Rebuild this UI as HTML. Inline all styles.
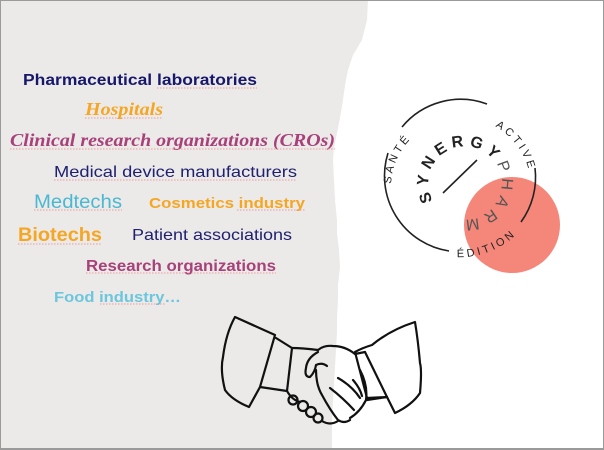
<!DOCTYPE html>
<html><head><meta charset="utf-8"><style>
html,body{margin:0;padding:0;background:#fff;}
svg{display:block;}
</style></head><body>
<svg width="604" height="450" viewBox="0 0 604 450" xmlns="http://www.w3.org/2000/svg">
<rect x="0" y="0" width="604" height="450" fill="#ffffff"/>
<path d="M0,0 L368,0 L367,20 L362,40 L353,55 L348,70 L345,85 L343,100 L340,118 L337,133 L334,148 L333,160 L334,180 L335,200 L337,220 L337,233 L339,250 L340,267 L338,285 L338,300 L337,318 L337,333 L336,350 L335,367 L334,385 L333,400 L332,420 L332,450 L0,450 Z" fill="#ebeae8"/>
<rect x="0.5" y="0.5" width="603" height="449" fill="none" stroke="#9a9a9a" stroke-width="1"/>

<g font-family="'Liberation Sans', sans-serif">
<text x="23" y="85" font-size="16" font-weight="bold" fill="#17176b" textLength="234" lengthAdjust="spacingAndGlyphs">Pharmaceutical laboratories</text>
<text x="85" y="115" font-family="'Liberation Serif', serif" font-size="18" font-weight="bold" font-style="italic" fill="#f5a623" textLength="78" lengthAdjust="spacingAndGlyphs">Hospitals</text>
<text x="10" y="146" font-family="'Liberation Serif', serif" font-size="18" font-weight="bold" font-style="italic" fill="#a8407a" textLength="325" lengthAdjust="spacingAndGlyphs">Clinical research organizations (CROs)</text>
<text x="54" y="177" font-size="16" fill="#202070" textLength="243" lengthAdjust="spacingAndGlyphs">Medical device manufacturers</text>
<text x="34" y="208" font-size="19" fill="#4bb8d2" textLength="88" lengthAdjust="spacingAndGlyphs">Medtechs</text>
<text x="149" y="208" font-size="15" font-weight="bold" fill="#f5a623" textLength="156" lengthAdjust="spacingAndGlyphs">Cosmetics industry</text>
<text x="18" y="241" font-size="19" font-weight="bold" fill="#f5a623" textLength="84" lengthAdjust="spacingAndGlyphs">Biotechs</text>
<text x="132" y="240" font-size="16" fill="#202070" textLength="160" lengthAdjust="spacingAndGlyphs">Patient associations</text>
<text x="86" y="271" font-size="16" font-weight="bold" fill="#a8407a" textLength="190" lengthAdjust="spacingAndGlyphs">Research organizations</text>
<text x="54" y="302" font-size="15" font-weight="bold" fill="#6cc6dd" textLength="127" lengthAdjust="spacingAndGlyphs">Food industry…</text>
</g>
<g stroke="#e88" stroke-width="1" stroke-dasharray="1.5 1.5" fill="none" opacity="0.8">
<line x1="157" y1="88" x2="257" y2="88"/>
<line x1="85" y1="118" x2="163" y2="118"/>
<line x1="10" y1="149" x2="335" y2="149"/>
<line x1="54" y1="180" x2="297" y2="180"/>
<line x1="34" y1="210" x2="122" y2="210"/>
<line x1="237" y1="210" x2="305" y2="210"/>
<line x1="18" y1="244" x2="102" y2="244"/>
<line x1="86" y1="273" x2="276" y2="273"/>
<line x1="100" y1="304" x2="165" y2="304"/>
</g>

<circle cx="512" cy="225" r="48" fill="#f47c6f" opacity="0.92"/>
<g fill="none" stroke="#222" stroke-width="1.6">
<path d="M402,127 A76,76 0 0 1 487,104"/>
<path d="M535,168 A76,76 0 0 1 521,222"/>
<path d="M449,251 A76,76 0 0 1 388,153"/>
<line x1="443" y1="193" x2="477" y2="160"/>
</g>
<defs>
<path id="cwr" d="M391,190 A70,70 0 0 1 530,176 A70,70 0 0 1 391,190" />
<path id="ccw" d="M455,257 A81,81 0 0 0 541,176" />
<path id="inner" d="M433,201 A34,34 0 0 1 497,165 A34,34 0 0 1 433,201"/>
</defs>
<g font-family="'Liberation Sans', sans-serif" font-size="11" fill="#222" letter-spacing="3">
<text><textPath href="#cwr" startOffset="6">SANTÉ</textPath></text>
<text><textPath href="#cwr" startOffset="148">ACTIVE</textPath></text>
<text><textPath href="#ccw" startOffset="2">ÉDITION</textPath></text>
</g>
<text font-family="'Liberation Sans', sans-serif" font-size="16" font-weight="bold" fill="#222" letter-spacing="5"><textPath href="#inner" startOffset="0">SYNERGY<tspan font-weight="normal" fill="#555">PHARM</tspan></textPath></text>

<g fill="none" stroke="#111" stroke-width="2.2" stroke-linejoin="round" stroke-linecap="round">
<path d="M235,317 Q255,326 275,335 L260,387 L249,407 Q232,400 225,390 Q220,370 223,357 Q226,333 235,317 Z"/>
<path d="M276,338 L292,348 L287,391 L260,387"/>
<path d="M292,348 Q302,348 318,350 Q324,345 333,346 Q345,346 355,354 L365,352"/>
<path d="M318,352 Q307,358 306,368 Q304,377 310,377 Q315,372 316,365 Q322,362 327,366"/>
<path d="M316,370 Q316,385 322,395 Q330,410 338,420 Q344,424 350,420"/>
<path d="M330,388 Q343,398 354,410"/>
<path d="M338,378 Q352,386 360,398"/>
<path d="M353,380 Q360,388 362,396"/>
<path d="M360,370 Q368,385 366,400 Q360,412 350,418"/>
<path d="M367,400 L387,397"/>
<path d="M287,391 Q292,400 300,402"/>
<circle cx="293" cy="400" r="4.5"/>
<circle cx="303" cy="406" r="5"/>
<circle cx="311" cy="412" r="5"/>
<circle cx="318" cy="418" r="4.5"/>
<path d="M322,421 Q330,426 338,421"/>
<path d="M355,352 L367,398 L387,397 L395,413 Q412,405 420,393 Q422,370 420,363 Q418,340 415,322 Q390,330 372,345 Q362,348 355,352 Z"/>
<path d="M365,352 L387,397"/>
</g>
<line x1="0" y1="448.5" x2="604" y2="448.5" stroke="#9a9a9a" stroke-width="1"/>
</svg>
</body></html>
